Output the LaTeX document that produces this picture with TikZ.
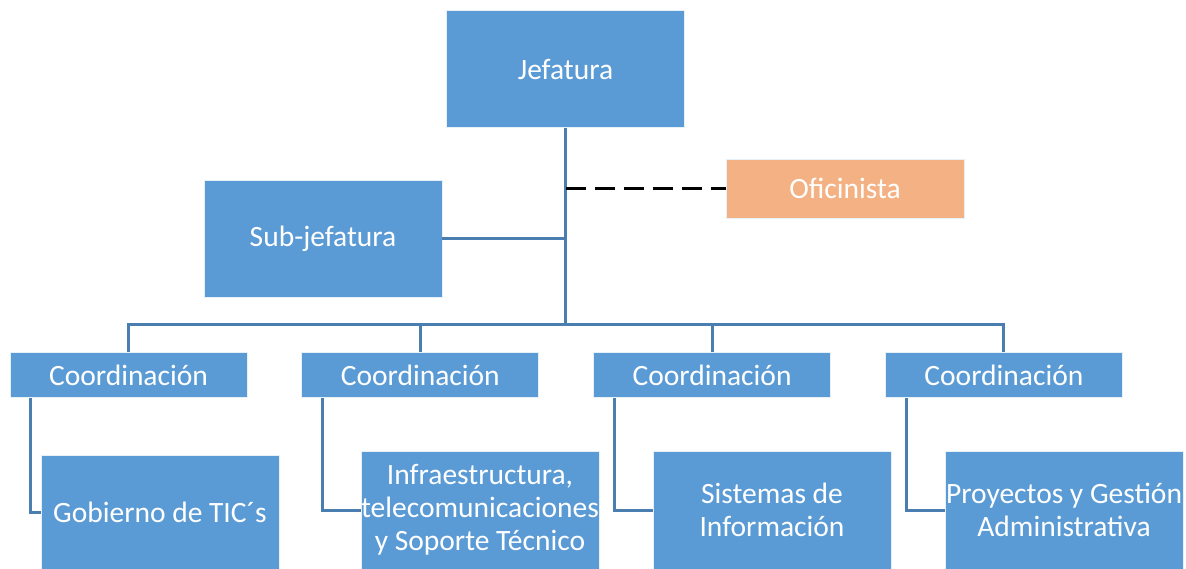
\documentclass[tikz,border=0pt]{standalone}
\usepackage{fontspec}
\setmainfont{Carlito}
\usepackage{xcolor}
\usepackage{tikz}
\usetikzlibrary{positioning,shapes}
\definecolor{unitblue}{HTML}{5B9BD5}
\definecolor{linkblue}{HTML}{4A7EB0}
\definecolor{staffpeach}{HTML}{F4B183}
\tikzstyle{unit}=[rectangle, draw=white!85!unitblue, line width=0.8pt, fill=unitblue,
        text centered, text=white, inner sep=0pt, font=\fontsize{29.5}{33}\selectfont]
\tikzstyle{head}=[unit, minimum width=238pt, minimum height=117pt]
\tikzstyle{coord}=[unit, minimum width=237pt, minimum height=45pt]
\tikzstyle{area}=[unit, minimum width=238pt, minimum height=118pt, align=center]
\tikzstyle{link}=[draw=linkblue, line width=3pt]

\begin{document}
\begin{tikzpicture}[x=1pt, y=-1pt]
      \useasboundingbox (0,0) rectangle (1186,569);
      \node (Jefatura) [head] at (565.5,69) {Jefatura};
      \node (Subjefatura) [head] at (323,239) {Sub-jefatura};
      \node (Oficinista) [unit, fill=staffpeach, minimum width=238pt, minimum height=59pt] at (845,188.5) {Oficinista};
      \node (CoordA) [coord] at (128.5,375) {Coordinación};
      \node (CoordB) [coord, right=54pt of CoordA] {Coordinación};
      \node (CoordC) [coord, right=54pt of CoordB] {Coordinación};
      \node (CoordD) [coord, right=54pt of CoordC] {Coordinación};
      \node (Gobierno) [area, minimum height=114pt] at (160,512) {Gobierno de TIC´s};
      \node (Infra) [area] at (480,510) {Infraestructura,\\telecomunicaciones\\y Soporte Técnico};
      \node (Sistemas) [area] at (772,510) {Sistemas de\\Información};
      \node (Proyectos) [area] at (1064,510) {Proyectos y Gestión\\Administrativa};
      \coordinate (bus) at (565.5,325);
      \draw [link] (Jefatura.south) -- (bus);
      \draw [link] (Subjefatura.east) -- (Subjefatura.east -| bus);
      \draw [line width=3pt, dash pattern=on 20pt off 9pt] (Oficinista.west -| bus) -- (Oficinista.west);
      \foreach \c in {CoordA,CoordB,CoordC,CoordD}
        \draw [link] (bus) -| (\c.north);
      \draw [link] ([xshift=21pt]CoordA.south west) |- (Gobierno.west);
      \draw [link] ([xshift=21pt]CoordB.south west) |- (Infra.west);
      \draw [link] ([xshift=21pt]CoordC.south west) |- (Sistemas.west);
      \draw [link] ([xshift=21pt]CoordD.south west) |- (Proyectos.west);
    \end{tikzpicture}
\end{document}
